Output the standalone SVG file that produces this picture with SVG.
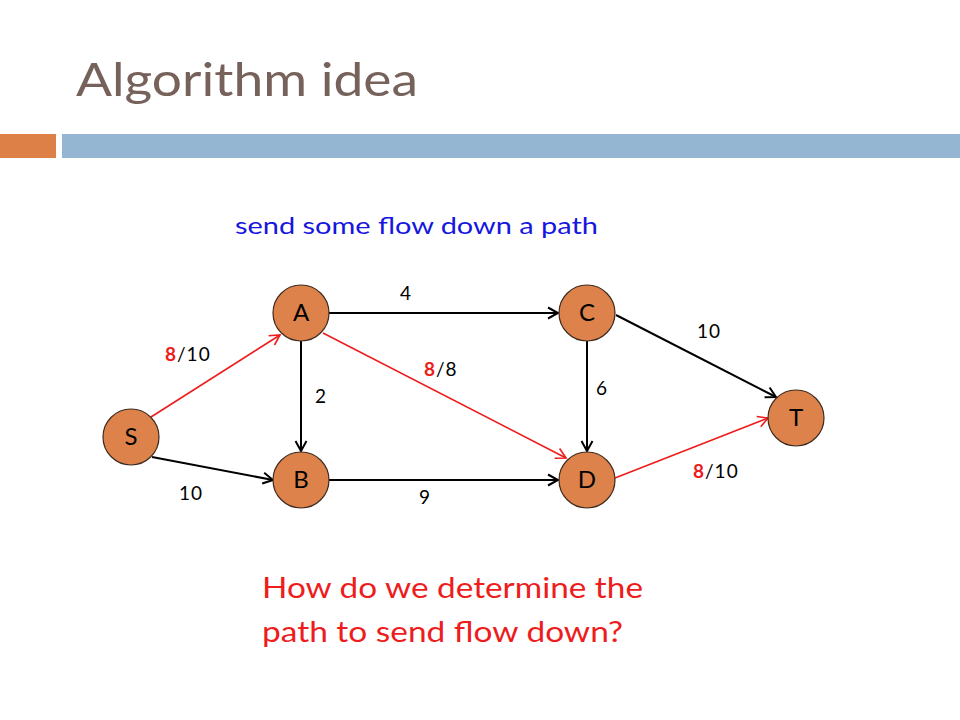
<svg xmlns="http://www.w3.org/2000/svg" width="960" height="720" viewBox="0 0 960 720">
<defs>
<style>
text{font-family:"Lato","Liberation Sans","DejaVu Sans",sans-serif}
.title{font-size:46px;fill:#76625b}
.node circle{fill:#dc824a;stroke:#3e2a1e;stroke-width:1.2}
.node text{font-size:24px;fill:#000;text-anchor:middle}
.e{fill:none;stroke-width:2}
.k{stroke:#000;marker-end:url(#ak)}
.r{stroke:#ee1c1c;stroke-width:1.6;marker-end:url(#ar)}
.lbl{font-size:19px;fill:#000;letter-spacing:1px}
.rb{fill:#ee1c1c;font-weight:bold}
</style>
<marker id="ak" viewBox="0 0 14 14" refX="12" refY="7" markerWidth="14" markerHeight="14" markerUnits="userSpaceOnUse" orient="auto"><path d="M2,1.5 L12,7 L2,12.5" fill="none" stroke="#000" stroke-width="2"/></marker>
<marker id="ar" viewBox="0 0 14 14" refX="12" refY="7" markerWidth="14" markerHeight="14" markerUnits="userSpaceOnUse" orient="auto"><path d="M2,1.5 L12,7 L2,12.5" fill="none" stroke="#ee1c1c" stroke-width="1.6"/></marker>
</defs>
<rect width="960" height="720" fill="#fff"/>
<text class="title" x="76" y="96" textLength="342" lengthAdjust="spacingAndGlyphs">Algorithm idea</text>
<rect x="0" y="134" width="56" height="24" fill="#dd8047"/>
<rect x="62" y="134" width="898" height="24" fill="#94b6d2"/>
<text x="235" y="234" font-size="23" fill="#1616e0" textLength="363" lengthAdjust="spacingAndGlyphs">send some flow down a path</text>
<g id="connectors">
<line class="e r" x1="151" y1="417" x2="280" y2="335"/>
<line class="e k" x1="152" y1="457" x2="273" y2="480"/>
<line class="e k" x1="301" y1="341" x2="301" y2="451"/>
<line class="e k" x1="329" y1="313" x2="558" y2="313"/>
<line class="e r" x1="323" y1="333" x2="566" y2="458"/>
<line class="e k" x1="587" y1="341" x2="587" y2="451"/>
<line class="e k" x1="329" y1="480" x2="558" y2="480"/>
<line class="e k" x1="616" y1="315" x2="776" y2="397"/>
<line class="e r" x1="615" y1="478" x2="768" y2="418"/>
</g>
<g id="edge-labels">
<text class="lbl" x="406" y="300" text-anchor="middle">4</text>
<text class="lbl" x="697" y="338">10</text>
<text class="lbl" x="165" y="361"><tspan class="rb">8</tspan>/10</text>
<text class="lbl" x="424" y="376"><tspan class="rb">8</tspan>/8</text>
<text class="lbl" x="321" y="403" text-anchor="middle">2</text>
<text class="lbl" x="602" y="395" text-anchor="middle">6</text>
<text class="lbl" x="179" y="500">10</text>
<text class="lbl" x="425" y="504" text-anchor="middle">9</text>
<text class="lbl" x="693" y="478"><tspan class="rb">8</tspan>/10</text>
</g>
<g id="node-S" class="node"><circle cx="131" cy="437" r="28"/><text x="131" y="445">S</text></g>
<g id="node-A" class="node"><circle cx="301" cy="313" r="28"/><text x="301" y="321">A</text></g>
<g id="node-B" class="node"><circle cx="301" cy="480" r="28"/><text x="301" y="488">B</text></g>
<g id="node-C" class="node"><circle cx="587" cy="313" r="28"/><text x="587" y="321">C</text></g>
<g id="node-D" class="node"><circle cx="587" cy="480" r="28"/><text x="587" y="488">D</text></g>
<g id="node-T" class="node"><circle cx="796" cy="418" r="28"/><text x="796" y="426">T</text></g>
<text x="262" y="598" font-size="28" fill="#ee1c1c" textLength="381" lengthAdjust="spacingAndGlyphs">How do we determine the</text>
<text x="262" y="642" font-size="28" fill="#ee1c1c" textLength="361" lengthAdjust="spacingAndGlyphs">path to send flow down?</text>
</svg>
